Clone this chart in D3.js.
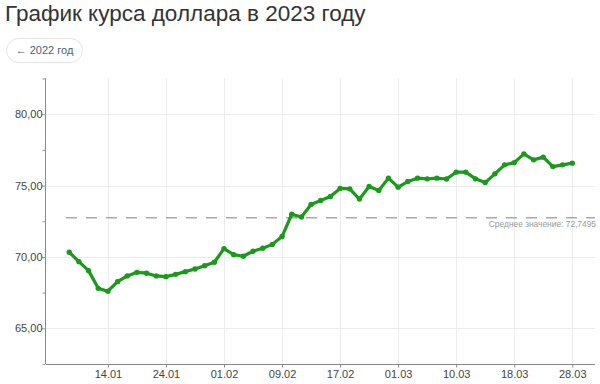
<!DOCTYPE html>
<html>
<head>
<meta charset="utf-8">
<script src="https://cdn.jsdelivr.net/npm/d3@7"></script>
<style>
  body { margin: 0; background: #fff; font-family: "Liberation Sans", Arial, sans-serif; }
  #chart { width: 600px; height: 384px; }
</style>
</head>
<body>
<div id="chart"></div>
<script>
const titleText = "График курса доллара в 2023 году";
const backLabel = "← 2022 год";

// даты курса ЦБ (торговые дни)
const dates = [
  "10.01", "11.01", "12.01", "13.01", "14.01", "17.01", "18.01", "19.01", "20.01", "21.01",
  "24.01", "25.01", "26.01", "27.01", "28.01", "31.01", "01.02", "02.02", "03.02", "04.02",
  "07.02", "08.02", "09.02", "10.02", "11.02", "14.02", "15.02", "16.02", "17.02", "18.02",
  "21.02", "22.02", "25.02", "28.02", "01.03", "02.03", "03.03", "04.03", "07.03", "09.03",
  "10.03", "11.03", "14.03", "15.03", "16.03", "17.03", "18.03", "21.03", "22.03", "23.03",
  "24.03", "25.03", "28.03"
];

const rates = [
  70.33, 69.67, 69.04, 67.80, 67.60, 68.27, 68.67, 68.92, 68.86, 68.67,
  68.62, 68.78, 68.97, 69.16, 69.39, 69.63, 70.58, 70.16, 70.05, 70.40,
  70.61, 70.88, 71.43, 72.99, 72.80, 73.68, 73.95, 74.23, 74.80, 74.77,
  74.05, 74.93, 74.65, 75.52, 74.89, 75.28, 75.52, 75.47, 75.52, 75.46,
  75.94, 75.94, 75.47, 75.21, 75.82, 76.45, 76.61, 77.22, 76.80, 76.99,
  76.33, 76.45, 76.57
];

const tickDates = ["14.01", "24.01", "01.02", "09.02", "17.02", "01.03", "10.03", "18.03", "28.03"];
const yTicks = [65, 70, 75, 80];
const yMinorTicks = [62.5, 67.5, 72.5, 77.5, 82.5];
const avgValue = 72.7495;

let chartDiv = document.getElementById("chart");
let svg = d3.select(chartDiv).append("svg")
  .attr("width", 600)
  .attr("height", 384);

let ruNum = function(v, digits) { return d3.format("." + digits + "f")(v).replace(".", ","); };

// заголовок
svg.append("text")
  .attr("x", 5)
  .attr("y", 20.5)
  .attr("font-size", 22.5)
  .attr("fill", "#333")
  .text(titleText);

// кнопка назад
svg.append("rect")
  .attr("x", 6.5)
  .attr("y", 38.5)
  .attr("width", 76)
  .attr("height", 24)
  .attr("rx", 12)
  .attr("fill", "#fff")
  .attr("stroke", "#e3e3e3");

svg.append("text")
  .attr("x", 44.5)
  .attr("y", 54)
  .attr("text-anchor", "middle")
  .attr("font-size", 11)
  .attr("fill", "#4a6078")
  .text(backLabel);

let x = d3.scaleLinear()
  .domain([-2.4, 54.35])
  .range([46, 595]);

let y = d3.scaleLinear()
  .domain([62.5, 82.5])
  .range([364, 78.5]);

let tickIdx = tickDates.map(function(d) { return dates.indexOf(d); });

// сетка
svg.append("g")
  .selectAll("line")
  .data(yTicks)
  .enter().append("line")
  .attr("x1", 46).attr("x2", 595)
  .attr("y1", function(d) { return Math.round(y(d)) + 0.5; })
  .attr("y2", function(d) { return Math.round(y(d)) + 0.5; })
  .attr("stroke", "#ececec");

svg.append("g")
  .selectAll("line")
  .data(tickIdx)
  .enter().append("line")
  .attr("y1", 78).attr("y2", 364)
  .attr("x1", function(d) { return Math.round(x(d)) + 0.5; })
  .attr("x2", function(d) { return Math.round(x(d)) + 0.5; })
  .attr("stroke", "#ececec");

// ось Y
let yAxis = svg.append("g")
  .attr("transform", "translate(45.5,0)")
  .call(d3.axisLeft(y)
    .tickValues(yTicks)
    .tickSize(4)
    .tickFormat(function(d) { return ruNum(d, 2); }));

svg.append("g")
  .attr("transform", "translate(45.5,0)")
  .call(d3.axisLeft(y).tickValues(yMinorTicks).tickSize(3).tickFormat(""))
  .call(function(g) { g.select(".domain").remove(); })
  .selectAll("line").attr("stroke", "#999");

yAxis.select(".domain").attr("stroke", "#888").attr("d", "M0,78V364");
yAxis.selectAll(".tick line").attr("stroke", "#999");
yAxis.selectAll(".tick text")
  .attr("font-family", "'Liberation Sans', Arial, sans-serif")
  .attr("font-size", 11)
  .attr("fill", "#444")
  .attr("x", -3);

// ось X
let xAxis = svg.append("g")
  .attr("transform", "translate(0,364.5)")
  .call(d3.axisBottom(x)
    .tickValues(tickIdx)
    .tickSize(3)
    .tickFormat(function(d) { return dates[d]; }));

xAxis.select(".domain").attr("stroke", "#888").attr("d", "M46,0H595");
xAxis.selectAll(".tick line").attr("stroke", "#888");
xAxis.selectAll(".tick text")
  .attr("font-family", "'Liberation Sans', Arial, sans-serif")
  .attr("font-size", 11)
  .attr("fill", "#444")
  .attr("y", 6);

// среднее значение
svg.append("line")
  .attr("x1", 66).attr("x2", 595)
  .attr("y1", y(avgValue)).attr("y2", y(avgValue))
  .attr("stroke", "#a8a8a8")
  .attr("stroke-width", 1.5)
  .attr("stroke-dasharray", "11,9");

svg.append("text")
  .attr("x", 596)
  .attr("y", y(avgValue) + 9)
  .attr("text-anchor", "end")
  .attr("font-size", 8.4)
  .attr("fill", "#999")
  .text("Среднее значение: " + ruNum(avgValue, 4));

// линия курса
let line = d3.line()
  .x(function(d, i) { return x(i); })
  .y(function(d) { return y(d); });

svg.append("path")
  .datum(rates)
  .attr("d", line)
  .attr("fill", "none")
  .attr("stroke", "#1a9a1a")
  .attr("stroke-width", 3.2)
  .attr("stroke-linejoin", "round");

svg.append("g")
  .selectAll("circle")
  .data(rates)
  .enter().append("circle")
  .attr("cx", function(d, i) { return x(i); })
  .attr("cy", function(d) { return y(d); })
  .attr("r", 2.7)
  .attr("fill", "#1a9a1a");
</script>
</body>
</html>
